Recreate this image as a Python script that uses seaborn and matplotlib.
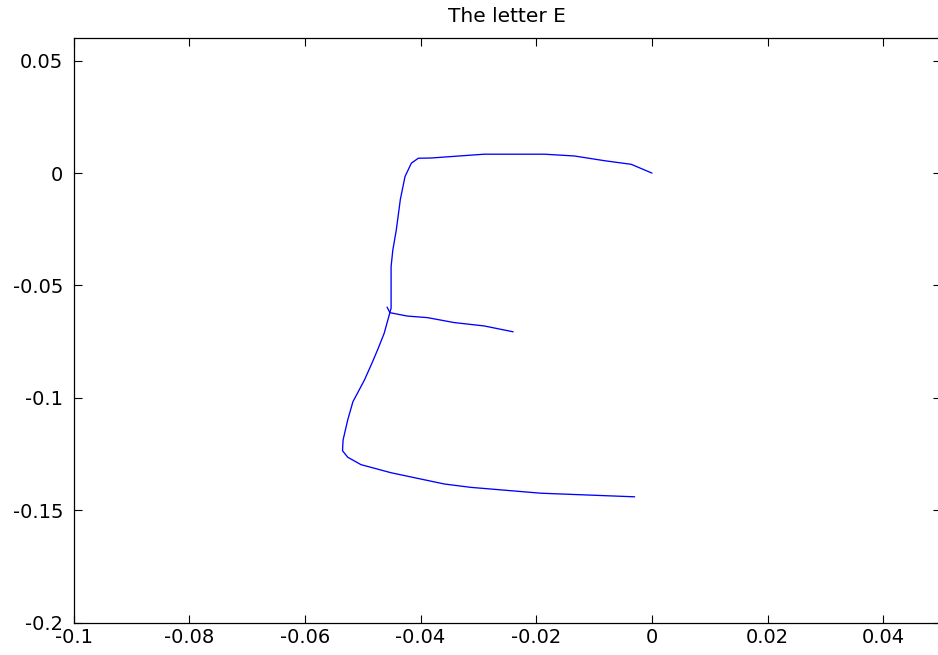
import matplotlib
matplotlib.use("Agg")
import matplotlib.pyplot as plt
import pandas as pd
import seaborn as sns

# Pen trace of the letter, two strokes
stroke_main_x = [0.0, -0.0036, -0.0082, -0.0134, -0.0186, -0.0290, -0.0382, -0.0404,
                 -0.0416, -0.0423, -0.0427, -0.0435, -0.0442, -0.0448, -0.0451, -0.0451,
                 -0.0463, -0.0474, -0.0483, -0.0497, -0.0517, -0.0526, -0.0534, -0.0535,
                 -0.0526, -0.0503, -0.0451, -0.0359, -0.0313, -0.0192, -0.0030]
stroke_main_y = [0.0, 0.0039, 0.0055, 0.0076, 0.0084, 0.0084, 0.0067, 0.0066,
                 0.0044, 0.0006, -0.0016, -0.0117, -0.0253, -0.0342, -0.0416, -0.0601,
                 -0.0713, -0.0784, -0.0839, -0.0920, -0.1017, -0.1098, -0.1187, -0.1235,
                 -0.1264, -0.1297, -0.1333, -0.1383, -0.1398, -0.1424, -0.1440]
stroke_mid_x = [-0.0458, -0.0453, -0.0423, -0.0388, -0.0342, -0.0290, -0.0240]
stroke_mid_y = [-0.0596, -0.0621, -0.0636, -0.0643, -0.0665, -0.0680, -0.0706]

x_ticks = [-0.1, -0.08, -0.06, -0.04, -0.02, 0, 0.02, 0.04]
x_tick_labels = ["-0.1", "-0.08", "-0.06", "-0.04", "-0.02", "0", "0.02", "0.04"]
y_ticks = [0.05, 0, -0.05, -0.1, -0.15, -0.2]
y_tick_labels = ["0.05", "0", "-0.05", "-0.1", "-0.15", "-0.2"]

df = pd.concat([
    pd.DataFrame({"x": stroke_main_x, "y": stroke_main_y, "stroke": "main",
                  "order": range(len(stroke_main_x))}),
    pd.DataFrame({"x": stroke_mid_x, "y": stroke_mid_y, "stroke": "middle",
                  "order": range(len(stroke_mid_x))}),
], ignore_index=True)

sns.set_theme(style="ticks")
plt.rcParams["font.family"] = ["DejaVu Sans"]

fig = plt.figure(figsize=(9.38, 6.55), dpi=100)
# the plot box runs slightly past the right edge of the canvas
ax = fig.add_axes([0.0784, 0.0493, 0.9250, 0.8924])

sns.lineplot(data=df, x="x", y="y", units="stroke", estimator=None, sort=False,
             color="#0000ff", linewidth=0.95, ax=ax)

ax.set_xlim(-0.1, 0.05)
ax.set_ylim(-0.2, 0.06)
ax.set_xticks(x_ticks)
ax.set_xticklabels(x_tick_labels)
ax.set_yticks(y_ticks)
ax.set_yticklabels(y_tick_labels)
ax.set_xlabel("")
ax.set_ylabel("")

ax.tick_params(axis="both", direction="in", length=6, width=0.8, color="black",
               labelsize=14, labelcolor="black", top=True, right=True)
ax.tick_params(axis="x", pad=4)
ax.tick_params(axis="y", pad=7.5)
for side in ["left", "right", "top", "bottom"]:
    ax.spines[side].set_visible(True)
    ax.spines[side].set_color("black")
    ax.spines[side].set_linewidth(0.9)

ax.set_title("The letter E", fontsize=14.5, color="black", pad=12)

fig.savefig("out.png", dpi=100, facecolor="white")
